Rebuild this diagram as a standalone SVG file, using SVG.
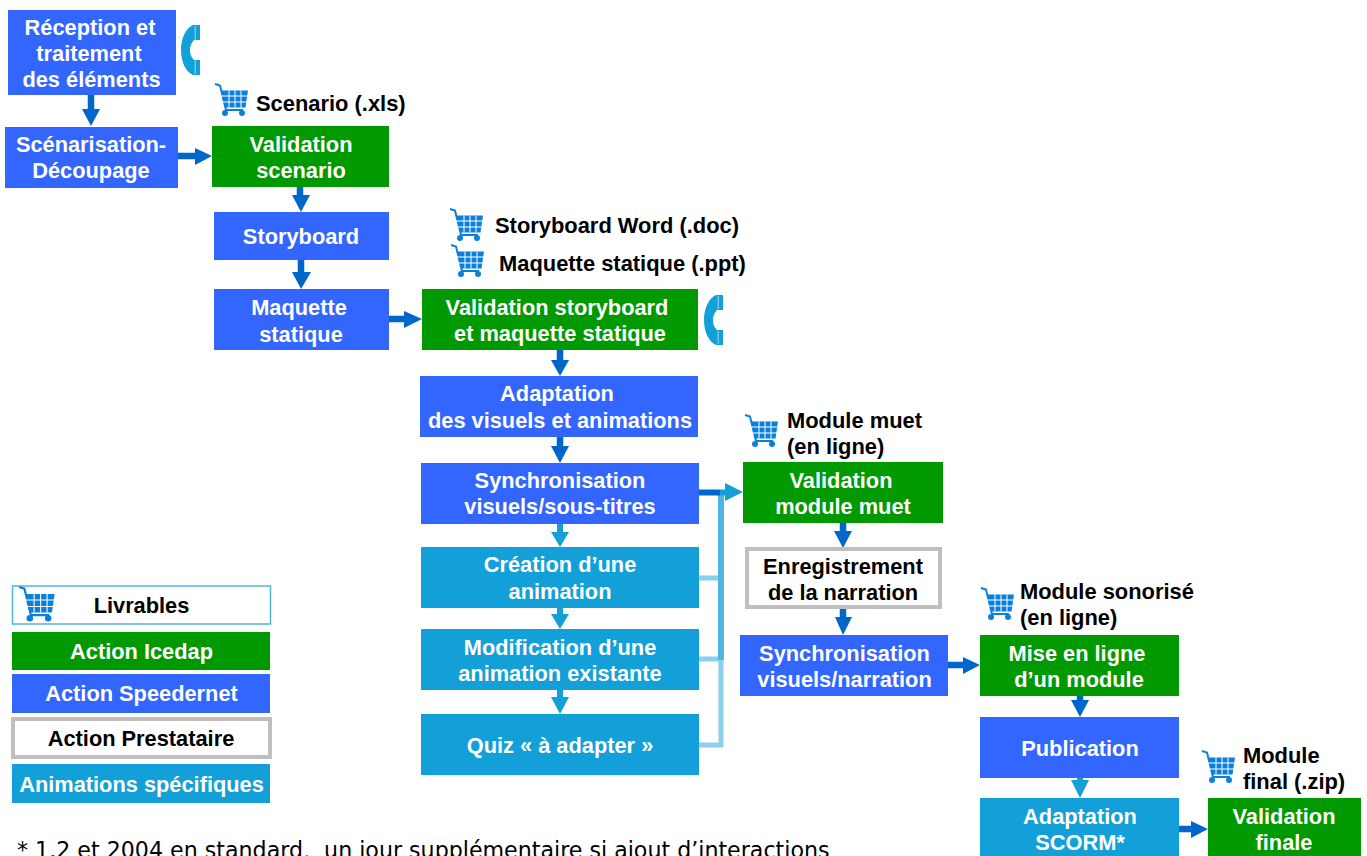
<svg xmlns="http://www.w3.org/2000/svg" width="1367" height="856" viewBox="0 0 1367 856">
<style>
text{font-family:"Liberation Sans",Arial,sans-serif;font-weight:700;font-size:21.800px;text-anchor:middle}
.w{fill:#fff}.k{fill:#000}
.l{text-anchor:start;font-size:21.900px}
.g{fill:#009900}.b{fill:#3366ff}.c{fill:#13a0d8}
.p{fill:#fff;stroke:#bfbfbf;stroke-width:4}
.a{fill:none;stroke:#0066cc;stroke-width:6.500}
.h{fill:#0066cc}
</style>
<defs>
<g id="cart">
<path d="M0 0 L5 1.500 L11 26 L28 26" fill="none" stroke="#0a80dc" stroke-width="2"/>
<path d="M6 6.500H33L30.500 23.500H10.500Z" fill="#0a80dc"/>
<path d="M6 12H33M6 18H33M14 6.500V23.500M20 6.500V23.500M26 6.500V23.500" stroke="#fff" stroke-width="1"/>
<circle cx="10" cy="29" r="3" fill="#0a80dc"/><circle cx="27" cy="29" r="3" fill="#0a80dc"/>
</g>
<g id="phone"><path d="M12 0H19V15H13C10 18 9 22 9 25C9 29 10 32 13 35H19V50H12C5 47 0 37 0 25C0 13 5 3 12 0Z" fill="#13a0d8"/><path d="M13.500 1H15V14.500H13.500ZM13.500 35.500H15V49H13.500Z" fill="#6cc6ea"/></g>
</defs>
<g id="connectors">
<path class="a" d="M91 95V110M178 156H196M300 187V196M301 260V273M389 319H405M560 350V361M560 437V447"/>
<path class="h" d="M82 109H100L91 126ZM195 148L212 156L195 165ZM292 195H310L301 212ZM292 272H311L301 289ZM404 311L422 319L404 328ZM551 360H569L560 376ZM551 446H569L560 463Z"/>
<path d="M560 524V533M560 608V615M560 690V698M1080 778V785" stroke="#13a0d8" stroke-width="6"/>
<path d="M551 532H569L560 547ZM551 614H569L560 629ZM551 697H569L560 714ZM1071 780H1089L1080 798Z" fill="#13a0d8"/>
<path d="M698 578H721M698 659H721M698 745H721V660" fill="none" stroke="#8ad0ec" stroke-width="5"/>
<path d="M721 660V494" stroke="#4fb6df" stroke-width="6"/>
<path d="M698 492.500H720" stroke="#0066cc" stroke-width="6"/>
<path d="M720 492.500H727" stroke="#13a0d8" stroke-width="6"/>
<path d="M725 483L743 492L725 501Z" fill="#13a0d8"/>
<path class="a" d="M843 523V535M843 608V621M948 665H964M1080 696V702M1178 829H1192"/>
<path class="h" d="M834 531H852L843 548ZM835 617H852L843 635ZM963 657L980 665L963 674ZM1071 700H1089L1080 717ZM1191 821L1208 829L1191 838Z"/>
</g>
<g id="reception"><rect class="b" x="8" y="10" width="168" height="85"/><text class="w" x="90" y="34.500">Réception et</text><text class="w" x="89" y="61">traitement</text><text class="w" x="91.500" y="87">des éléments</text></g>
<use href="#phone" x="181" y="25"/>
<g id="scenarisation"><rect class="b" x="5" y="127" width="173" height="61"/><text class="w" x="91" y="152">Scénarisation-</text><text class="w" x="91" y="178">Découpage</text></g>
<g id="livrable-scenario"><use href="#cart" x="215" y="84"/><text class="k l" x="256" y="111">Scenario (.xls)</text></g>
<g id="validation-scenario"><rect class="g" x="212" y="126" width="177" height="61"/><text class="w" x="301" y="152">Validation</text><text class="w" x="301" y="178">scenario</text></g>
<g id="storyboard"><rect class="b" x="214" y="212" width="175" height="48"/><text class="w" x="301" y="244">Storyboard</text></g>
<g id="maquette"><rect class="b" x="214" y="289" width="175" height="61"/><text class="w" x="299" y="315">Maquette</text><text class="w" x="301" y="342">statique</text></g>
<g id="livrable-storyboard"><use href="#cart" x="450" y="209"/><text class="k l" x="495" y="233">Storyboard Word (.doc)</text></g>
<g id="livrable-maquette"><use href="#cart" x="451" y="245"/><text class="k l" x="499" y="271">Maquette statique (.ppt)</text></g>
<g id="validation-storyboard"><rect class="g" x="422" y="289" width="276" height="61"/><text class="w" x="557" y="315">Validation storyboard</text><text class="w" x="560" y="341">et maquette statique</text></g>
<use href="#phone" x="704" y="295"/>
<g id="adaptation"><rect class="b" x="420" y="376" width="278" height="61"/><text class="w" x="557" y="401">Adaptation</text><text class="w" x="560" y="428">des visuels et animations</text></g>
<g id="synchro"><rect class="b" x="421" y="463" width="278" height="61"/><text class="w" x="560" y="488">Synchronisation</text><text class="w" x="560" y="514">visuels/sous-titres</text></g>
<g id="creation"><rect class="c" x="421" y="547" width="278" height="61"/><text class="w" x="560" y="572">Création d’une</text><text class="w" x="560" y="599">animation</text></g>
<g id="modification"><rect class="c" x="421" y="629" width="278" height="61"/><text class="w" x="560" y="655">Modification d’une</text><text class="w" x="560" y="681">animation existante</text></g>
<g id="quiz"><rect class="c" x="421" y="714" width="278" height="61"/><text class="w" x="560" y="753">Quiz « à adapter »</text></g>
<g id="livrable-muet"><use href="#cart" x="745" y="415"/><text class="k l" x="787" y="428">Module muet</text><text class="k l" x="787" y="454">(en ligne)</text></g>
<g id="validation-muet"><rect class="g" x="743" y="462" width="200" height="61"/><text class="w" x="841" y="488">Validation</text><text class="w" x="843" y="514">module muet</text></g>
<g id="enregistrement"><rect class="p" x="747" y="549" width="193" height="58"/><text class="k" x="843" y="574">Enregistrement</text><text class="k" x="843" y="600">de la narration</text></g>
<g id="synchro-narration"><rect class="b" x="740" y="635" width="208" height="61"/><text class="w" x="844.500" y="661">Synchronisation</text><text class="w" x="844.500" y="687">visuels/narration</text></g>
<g id="livrable-sonorise"><use href="#cart" x="981" y="588"/><text class="k l" x="1020" y="599">Module sonorisé</text><text class="k l" x="1020" y="625">(en ligne)</text></g>
<g id="mise-en-ligne"><rect class="g" x="980" y="635" width="199" height="61"/><text class="w" x="1077" y="661">Mise en ligne</text><text class="w" x="1079" y="687">d’un module</text></g>
<g id="publication"><rect class="b" x="980" y="717" width="199" height="61"/><text class="w" x="1080" y="756">Publication</text></g>
<g id="adaptation-scorm"><rect class="c" x="980" y="798" width="199" height="61"/><text class="w" x="1080" y="824">Adaptation</text><text class="w" x="1080" y="850">SCORM*</text></g>
<g id="livrable-final"><use href="#cart" x="1202" y="751"/><text class="k l" x="1243" y="763">Module</text><text class="k l" x="1243" y="789">final (.zip)</text></g>
<g id="validation-finale"><rect class="g" x="1208" y="798" width="153" height="58"/><text class="w" x="1284" y="824">Validation</text><text class="w" x="1284" y="850">finale</text></g>
<g id="legende">
<rect x="12.500" y="586" width="258" height="38" fill="#fff" stroke="#4fb6df" stroke-width="1.500"/><use href="#cart" transform="translate(19 587) scale(1.080)"/><text class="k" x="141.500" y="613">Livrables</text>
<rect class="g" x="12" y="632" width="258" height="38"/><text class="w" x="141.500" y="659">Action Icedap</text>
<rect class="b" x="12" y="674" width="258" height="39"/><text class="w" x="141.500" y="701">Action Speedernet</text>
<rect class="p" x="13" y="719" width="257" height="38"/><text class="k" x="141" y="746">Action Prestataire</text>
<rect class="c" x="12" y="764" width="258" height="39"/><text class="w" x="141.500" y="792">Animations spécifiques</text>
</g>
<text x="17" y="858" style="font-family:'DejaVu Sans',sans-serif;font-weight:400;font-size:22.150px;text-anchor:start;white-space:pre" class="k">* 1.2 et 2004 en standard,  un jour supplémentaire si ajout d’interactions</text>
</svg>
